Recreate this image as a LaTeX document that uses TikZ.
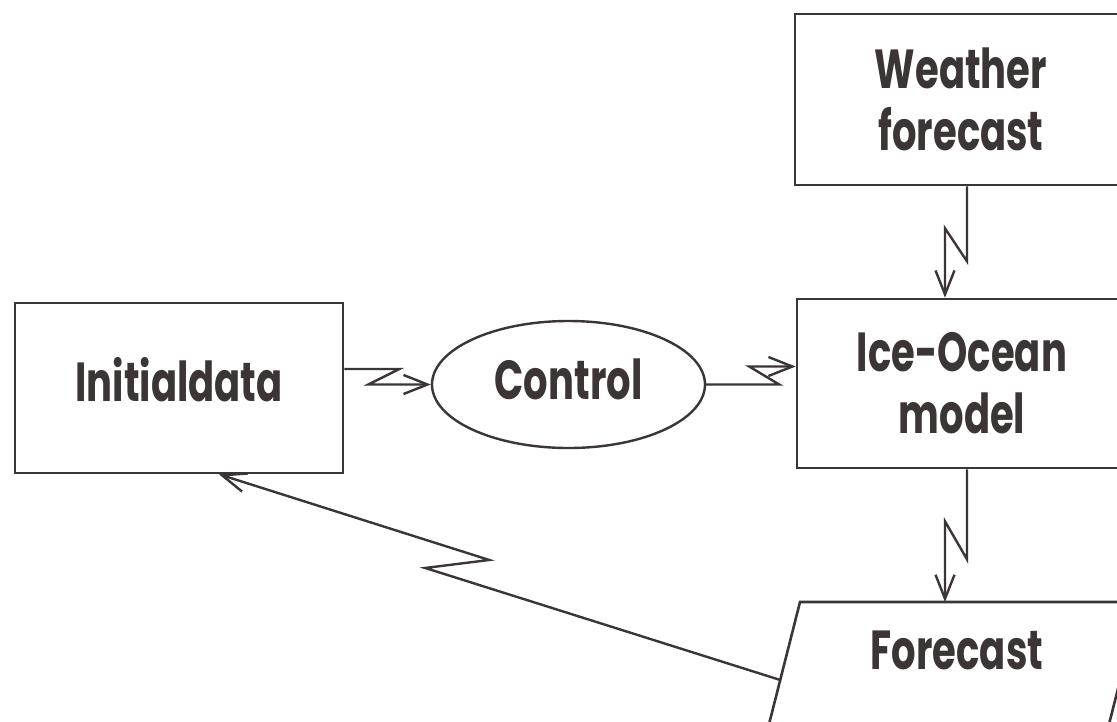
\documentclass[tikz,border=0pt]{standalone}
\usepackage{fontspec}
\setmainfont{Poppins}[FakeStretch=0.70]
\usetikzlibrary{arrows.meta,shapes.geometric,calc}
\definecolor{ink}{HTML}{3B3535}
\tikzset{
  box/.style={draw=ink, line width=2.6pt, rectangle, inner sep=0pt, align=center,
    text=ink, font=\fontsize{55}{62}\selectfont\bfseries},
  oval/.style={draw=ink, line width=2.4pt, ellipse, inner sep=0pt,
    text=ink, font=\fontsize{55}{62}\selectfont\bfseries},
  lbl/.style={text=ink, font=\fontsize{55}{62}\selectfont\bfseries},
  conn/.style={draw=ink, line width=2.4pt, line join=miter,
    -{Straight Barb[length=24pt,width=19pt,line width=2.4pt]}},
}
\begin{document}
\begin{tikzpicture}[x=1pt,y=-1pt]
\useasboundingbox (0,0) rectangle (1117,721);
\clip (0,0) rectangle (1117,721);
\fill[white] (0,0) rectangle (1117,721);
\node[box, minimum width=328pt, minimum height=170pt] (init) at (179,388) {\raisebox{18pt}{Initialdata}};
\node[oval, minimum width=273pt, minimum height=127pt] (ctrl) at (568.5,384.5) {\raisebox{10pt}{Control}};
\node[box, minimum width=332pt, minimum height=171pt] (weather) at (961,99.5) {Weather\\forecast};
\node[box, minimum width=330pt, minimum height=169pt] (ice) at (962,383.5) {Ice-Ocean\\model};
\coordinate (fctl) at (800,602);
\coordinate (fctr) at (1140,602);
\coordinate (fcbr) at (1105,740);
\coordinate (fcbl) at (765,740);
\draw[draw=ink, line width=2.6pt, line join=miter] (fcbl) -- (fctl) -- (fctr) -- (fcbr);
\node[lbl] (fc) at (957,650) {Forecast};
\coordinate (fcl) at ($(fctl)!0.565!(fcbl)$);
% connectors
\draw[conn] ([yshift=19pt]init.east) -- ++(55,0) -- ++(-31,15.5) coordinate (a1) -- (ctrl.west);
\draw[conn] (ctrl.east) -- ++(73,0) -- ++(-30,-18) coordinate (a2) -- (a2 -| ice.west);
\draw[conn] ([xshift=6pt]weather.south) -- ++(0,75) -- ++(-22,-33) coordinate (a3) -- (a3 |- ice.north);
\draw[conn] ([xshift=5pt]ice.south) -- ++(0,90) -- ++(-22,-38) coordinate (a4) -- (a4 |- fctl);
\draw[conn] (fcl) -- ++(-355,-112) -- ++(64,-8) -- ([xshift=40pt]init.south);
\end{tikzpicture}
\end{document}
